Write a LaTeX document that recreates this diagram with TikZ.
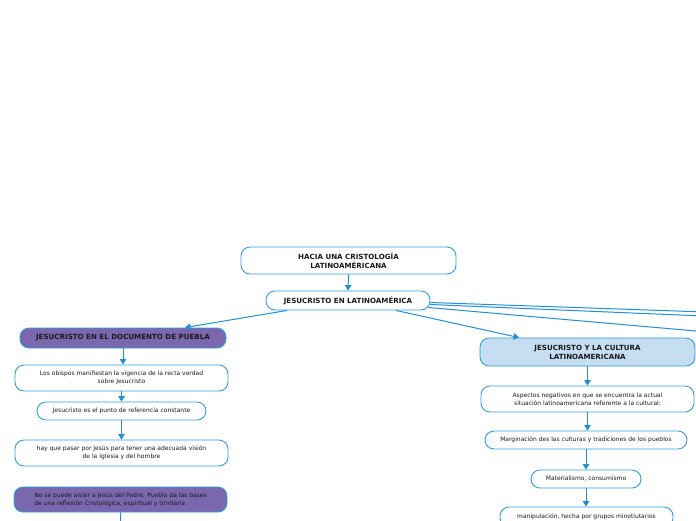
\documentclass[tikz,border=0pt]{standalone}
\usepackage{fontspec}
\setmainfont{DejaVu Sans}
\usetikzlibrary{arrows.meta,calc}
\definecolor{lineblue}{HTML}{1E90DC}
\definecolor{boxblue}{HTML}{2E9FE3}
\definecolor{purp}{HTML}{7B67AE}
\definecolor{lightb}{HTML}{C5DEF1}
\definecolor{txt}{HTML}{1A1A1A}
\tikzset{
 box/.style={draw=boxblue, line width=0.9pt, rounded corners=9pt, fill=white, align=center, inner sep=0pt, font=\fontsize{6}{8}\selectfont, text=txt},
 ttl/.style={box, font=\fontsize{7.1}{9}\selectfont\bfseries},
 conn/.style={draw=lineblue, line width=1pt},
 arr/.style={conn, -{Triangle[width=6.5pt,length=5.5pt]}},
}
\begin{document}
\begin{tikzpicture}[x=1pt,y=-1pt]
\useasboundingbox (0,0) rectangle (696,520);
\clip (0,0) rectangle (696,520);
\fill[white] (0,0) rectangle (696,520);
% top
\node[ttl, minimum width=215pt, minimum height=27pt] (n1) at (348.5,260.5) {HACIA UNA CRISTOLOGÍA\\LATINOAMÉRICANA};
\node[ttl, minimum width=164pt, minimum height=19pt] (n2) at (348,300.5) {JESUCRISTO EN LATINOAMÉRICA};
% left branch
\node[ttl, fill=purp, minimum width=206pt, minimum height=20pt] (p1) at (123,338) {JESUCRISTO EN EL DOCUMENTO DE PUEBLA};
\node[box, minimum width=213pt, minimum height=26pt] (p2) at (121.5,378) {Los obispos manifiestan la vigencia de la recta verdad\\sobre Jesucristo};
\node[box, minimum width=169pt, minimum height=18pt] (p3) at (121.5,411) {Jesucristo es el punto de referencia constante};
\node[box, minimum width=213pt, minimum height=26pt] (p4) at (121.5,453) {hay que pasar por Jesús para tener una adecuada visión\\de la Iglesia y del hombre};
\node[box, fill=purp, align=left, minimum width=213pt, minimum height=25pt] (p5) at (120.5,499.5) {No se puede aislar a Jesús del Padre. Puebla da las bases\\de una reflexión Cristológica, espiritual y trinitaria};
\coordinate (p6) at (121,540);
% right branch
\node[ttl, fill=lightb, minimum width=215pt, minimum height=28pt] (c1) at (587.5,352) {JESUCRISTO Y LA CULTURA\\LATINOAMERICANA};
\node[box, minimum width=213pt, minimum height=26pt] (c2) at (587.5,399) {Aspectos negativos en que se encuentra la actual\\situación latinoamericana referente a la cultural:};
\node[box, minimum width=202pt, minimum height=18pt] (c3) at (586,440) {Marginación des las culturas y tradiciones de los pueblos};
\node[box, minimum width=110pt, minimum height=18pt] (c4) at (586,479) {Materialismo, consumismo};
\node[box, minimum width=173pt, minimum height=20pt] (c5) at (586.5,517) {manipulación, hecha por grupos minotiutarios};
% off-canvas ends
\coordinate (r1) at (720,312.5);
\coordinate (r2) at (720,316.7);
\coordinate (r3) at (720,333.1);
% connectors
\draw[arr] (n1.south) -- (n2.north);
\draw[arr] ([xshift=-61pt]n2.south) -- ([xshift=62pt]p1.north);
\draw[arr] ([xshift=48pt]n2.south) -- ([xshift=-68.5pt]c1.north);
\draw[conn] ($(n2.east)+(0,2)$) -- (r1);
\draw[conn] ($(n2.east)+(0,4)$) -- (r2);
\draw[conn] ($(n2.east)+(-2,7)$) -- (r3);
\draw[arr] (p1.south) -- (p1.south |- p2.north);
\draw[arr] (p2.south) -- (p3.north);
\draw[arr] (p3.south) -- (p4.north);
\draw[conn] (p5.south) -- (p6);
\draw[arr] (c1.south) -- (c1.south |- c2.north);
\draw[arr] (c2.south) -- (c2.south |- c3.north);
\draw[arr] (c3.south) -- (c4.north);
\draw[arr] (c4.south) -- (c4.south |- c5.north);
\end{tikzpicture}
\end{document}
